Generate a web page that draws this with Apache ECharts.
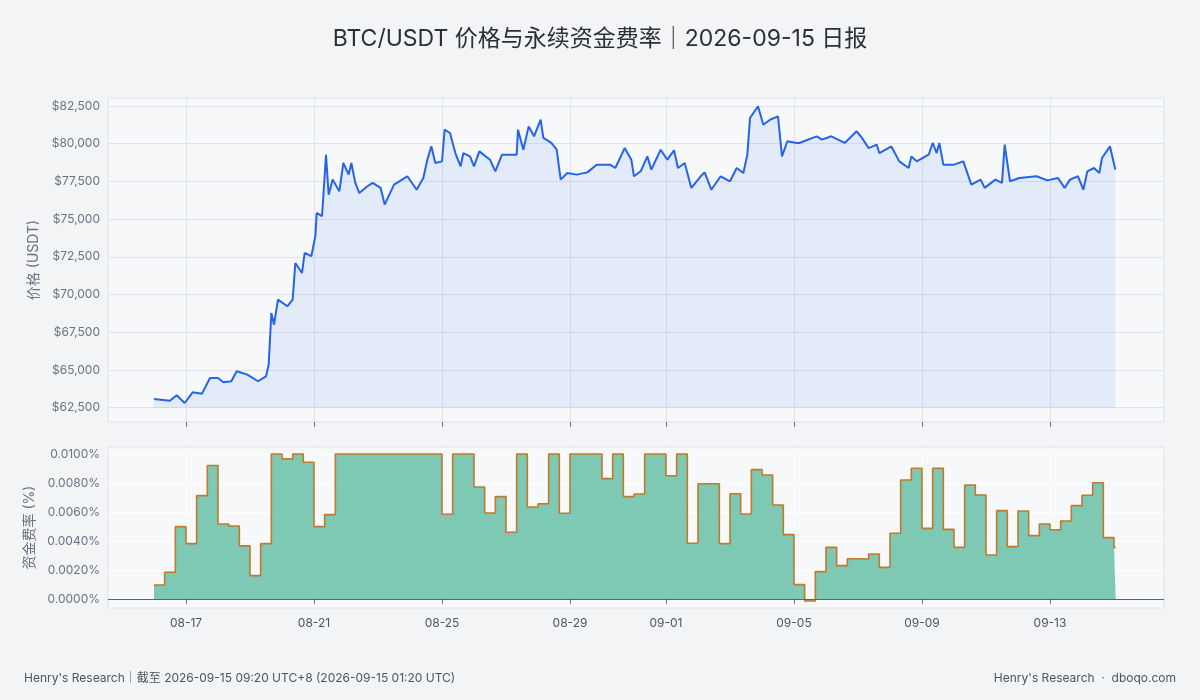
<!DOCTYPE html>
<html><head><meta charset="utf-8">
<script src="https://cdn.jsdelivr.net/npm/echarts@6/dist/echarts.min.js"></script>
<style>html,body{margin:0;padding:0;background:#f3f4f6}#c{width:1200px;height:700px}</style>
</head><body><div id="c"></div>
<script>
const startUTC = Date.UTC(2026, 7, 16, 0, 0);
// hours since 2026-08-16 00:00
const priceHours = [0,12,17,23,29,36,42,48,52,58,62,70,78,84,86,88,90,93,100,104,106,111,113,118,121,122,126,127,129,131,134,139,142,146,148,151,154,160,164,170,173,180,190,197,202,205,208,211,216,218,222,226,230,232,
237,240,244,252,256,261,267,272,273,277,281,285,290,292,298,302,305,310,317,325,332,342,346,353,358,360,365,370,373,380,385,390,393,398,403,410,413,418,425,432,437,442,445,447,453,457,462,468,470,471,475,482,
484,497,501,508,518,527,531,536,542,544,553,559,566,568,572,581,584,587,589,592,600,607,613,620,623,631,636,638,642,649,662,670,678,683,687,693,697,700,705,709,711,717,721];
const priceValues = [63070,62960,63320,62810,63520,63430,64470,64470,64190,64250,64910,64690,64250,64580,65350,68770,68000,69660,69220,69660,72090,71430,72760,72540,73860,75410,75190,76510,79270,76620,77620,76840,78720,77950,78720,77400,76730,77180,77400,77070,75960,77290,77840,76950,77730,78940,79830,78720,78830,80930,80710,79380,78500,79380,
79160,78500,79490,78940,78170,79270,79270,79270,80930,79600,81150,80490,81590,80380,80050,79600,77620,78060,77950,78100,78610,78610,78390,79710,78940,77840,78170,79160,78280,79600,78940,79560,78390,78720,77070,77840,78100,76950,77840,77510,78390,78060,79270,81700,82480,81260,81590,81810,80050,79160,80160,80050,
80050,80490,80270,80490,80050,80820,80380,79710,79940,79380,79820,78830,78390,79160,78830,79270,80050,79380,80050,78610,78610,78830,77290,77620,77070,77620,77400,79940,77510,77730,77840,77570,77730,77070,77620,77840,76950,78170,78390,78060,79050,79820,78280];
// funding rate (%) per 8h period, starting 08-16 00:00
const fundingRates = [0.00097,0.00184,0.00499,0.00382,0.00713,0.0092,0.00517,0.00503,0.00366,0.00161,0.00382,0.01,0.00966,0.01,0.00943,0.00499,0.00582,
0.01,0.01,0.01,0.01,0.01,0.01,0.01,0.01,0.01,0.01,0.00584,0.01,0.01,
0.00772,0.00593,0.00706,0.0046,0.01,0.00634,0.00657,0.01,0.00591,0.01,0.01,0.01,0.0083,0.01,0.00706,0.00724,0.01,0.01,0.0085,0.01,0.00384,0.00795,0.00795,0.00382,0.00726,0.00586,0.00892,0.00855,0.00648,0.00444,0.00099,
-0.00014,0.00189,0.00356,0.0023,0.00278,0.00276,0.0031,0.00218,0.00453,0.00821,0.00901,0.00487,0.00901,0.0048,0.00356,0.00786,0.00717,0.00303,0.00609,0.00361,0.00607,0.00437,0.00517,0.00478,0.00538,0.00644,0.00715,0.00802,0.00423,0.00354];
const dateTicks = ['2026-08-17','2026-08-21','2026-08-25','2026-08-29','2026-09-01','2026-09-05','2026-09-09','2026-09-13'];
const priceTicks = [62500,65000,67500,70000,72500,75000,77500,80000,82500];
const fundingTicks = [0,0.002,0.004,0.006,0.008,0.01];

const H = 3600e3;
const priceData = priceHours.map((h,i)=>[h, priceValues[i]]);
const fundData = fundingRates.map((v,i)=>[i*8, v]);
fundData.push([721.3, fundingRates[fundingRates.length-1]]);
const tickHours = dateTicks.map(d=>(Date.parse(d+'T00:00:00Z')-startUTC)/H);
const xmin = -34.5, xmax = 757.5;
const pad=n=>String(n).padStart(2,'0');
const fmtDate = v=>{const d=new Date(startUTC+v*H);return pad(d.getUTCMonth()+1)+'-'+pad(d.getUTCDate());};
const font='Inter,"Noto Sans CJK SC",sans-serif';
const gridC='#dfe3ea', labC='#6b7280';

const chart = echarts.init(document.getElementById('c'));
chart.setOption({
  backgroundColor:'#f3f4f6',
  animation:false,
  textStyle:{fontFamily:font},
  title:{text:'BTC/USDT 价格与永续资金费率｜2026-09-15 日报',left:'center',top:23,
    textStyle:{fontSize:23,fontWeight:'normal',color:'#2b2f36',fontFamily:font}},
  graphic:[
    {type:'text',left:24,top:672,style:{text:'Henry\'s Research｜截至 2026-09-15 09:20 UTC+8 (2026-09-15 01:20 UTC)',fill:'#4b5563',fontSize:12,fontFamily:font}},
    {type:'text',right:24,top:672,style:{text:'Henry\'s Research  ·  dboqo.com',fill:'#4b5563',fontSize:12,fontFamily:font}}
  ],
  grid:[
    {left:108,right:36,top:98,height:324,show:true,backgroundColor:'#f7f8fa',borderColor:'#dde1e8'},
    {left:108,right:36,top:447,height:161,show:true,backgroundColor:'#f7f8fa',borderColor:'#dde1e8'}
  ],
  xAxis:[
    {type:'value',gridIndex:0,min:xmin,max:xmax,
     axisLine:{show:false},axisTick:{show:true,length:5,lineStyle:{color:'#6b7280'},customValues:tickHours},
     axisLabel:{show:false,customValues:tickHours},
     splitLine:{show:true,lineStyle:{color:gridC}}},
    {type:'value',gridIndex:1,min:xmin,max:xmax,
     axisLine:{show:false},axisTick:{show:true,length:5,lineStyle:{color:'#6b7280'},customValues:tickHours},
     axisLabel:{customValues:tickHours,formatter:fmtDate,color:'#4b5563',fontSize:12,margin:9},
     splitLine:{show:true,lineStyle:{color:'#ffffff'}}}
  ],
  yAxis:[
    {type:'value',gridIndex:0,min:61550,max:83030,
     name:'价格 (USDT)',nameLocation:'middle',nameGap:66,nameTextStyle:{color:labC,fontSize:14},
     axisLine:{show:false},axisTick:{show:false,customValues:priceTicks},
     axisLabel:{customValues:priceTicks,color:labC,fontSize:12,formatter:v=>'$'+v.toLocaleString('en-US')},
     splitLine:{lineStyle:{color:gridC}}},
    {type:'value',gridIndex:1,min:-0.00062,max:0.01048,
     name:'资金费率 (%)',nameLocation:'middle',nameGap:66,nameTextStyle:{color:labC,fontSize:14},
     axisLine:{show:false},axisTick:{show:false,customValues:fundingTicks},
     axisLabel:{customValues:fundingTicks,color:labC,fontSize:12,formatter:v=>v.toFixed(4)+'%'},
     splitLine:{lineStyle:{color:'#ffffff'}}}
  ],
  series:[
    {type:'line',xAxisIndex:0,yAxisIndex:0,data:priceData,showSymbol:false,
     lineStyle:{color:'#2563eb',width:2},areaStyle:{color:'rgba(37,99,235,0.09)',opacity:1,origin:62500}},
    {type:'line',xAxisIndex:1,yAxisIndex:1,data:fundData,step:'end',showSymbol:false,
     lineStyle:{color:'#c07a2a',width:1.6},areaStyle:{color:'rgba(26,163,122,0.55)',opacity:1,origin:0},
     markLine:{silent:true,symbol:'none',label:{show:false},lineStyle:{color:'#5b6270',width:1,type:'solid'},data:[{yAxis:0}]}}
  ]
});
</script></body></html>
